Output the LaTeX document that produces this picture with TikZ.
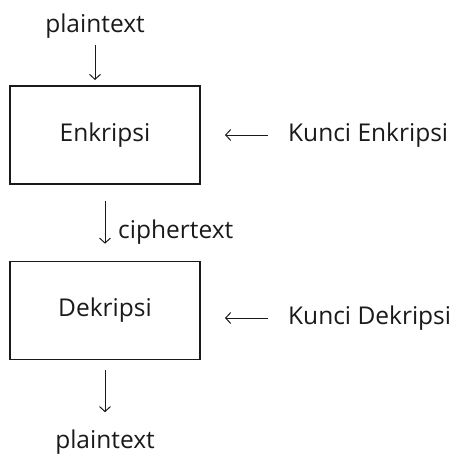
\documentclass[tikz,border=0pt]{standalone}
\usepackage{fontspec}
\setmainfont{Open Sans}
\usetikzlibrary{arrows.meta}
\definecolor{ink}{HTML}{1A1A1A}
\begin{document}
\begin{tikzpicture}[x=1pt,y=-1pt,
  every node/.style={text=ink,font=\fontsize{24.5}{28}\selectfont,inner sep=0pt},
  blok/.style={draw=ink,line width=1.4pt,minimum width=190pt,minimum height=98pt},
  panah/.style={draw=ink,line width=1pt,-{Straight Barb[length=5pt,width=11pt,line width=1pt]}}]
\useasboundingbox (0,0) rectangle (457,455);
\node[blok] (b1) at (105,135) {Enkripsi};
\node[blok] (b2) at (105,310.5) {Dekripsi};
\node (p1) at (95,26) {plaintext};
\node (p2) at (105,442) {plaintext};
\node[anchor=west] (k1) at (288,135) {Kunci Enkripsi};
\node[anchor=west] (k2) at (288,318) {Kunci Dekripsi};
\coordinate (t1) at (95,80);
\draw[panah] (p1.south |- 0,45) -- (t1);
\draw[panah] (b1.south) ++(0,16) -- ++(0,43) coordinate (c1);
\node[anchor=west] (ct) at (118,232) {ciphertext};
\draw[panah] (b2.south) ++(0,10) -- ++(0,42);
\draw[panah] (k1.west) ++(-20,0) -- ++(-43,0);
\draw[panah] (k2.west) ++(-20,0) -- ++(-43,0);
\end{tikzpicture}
\end{document}
